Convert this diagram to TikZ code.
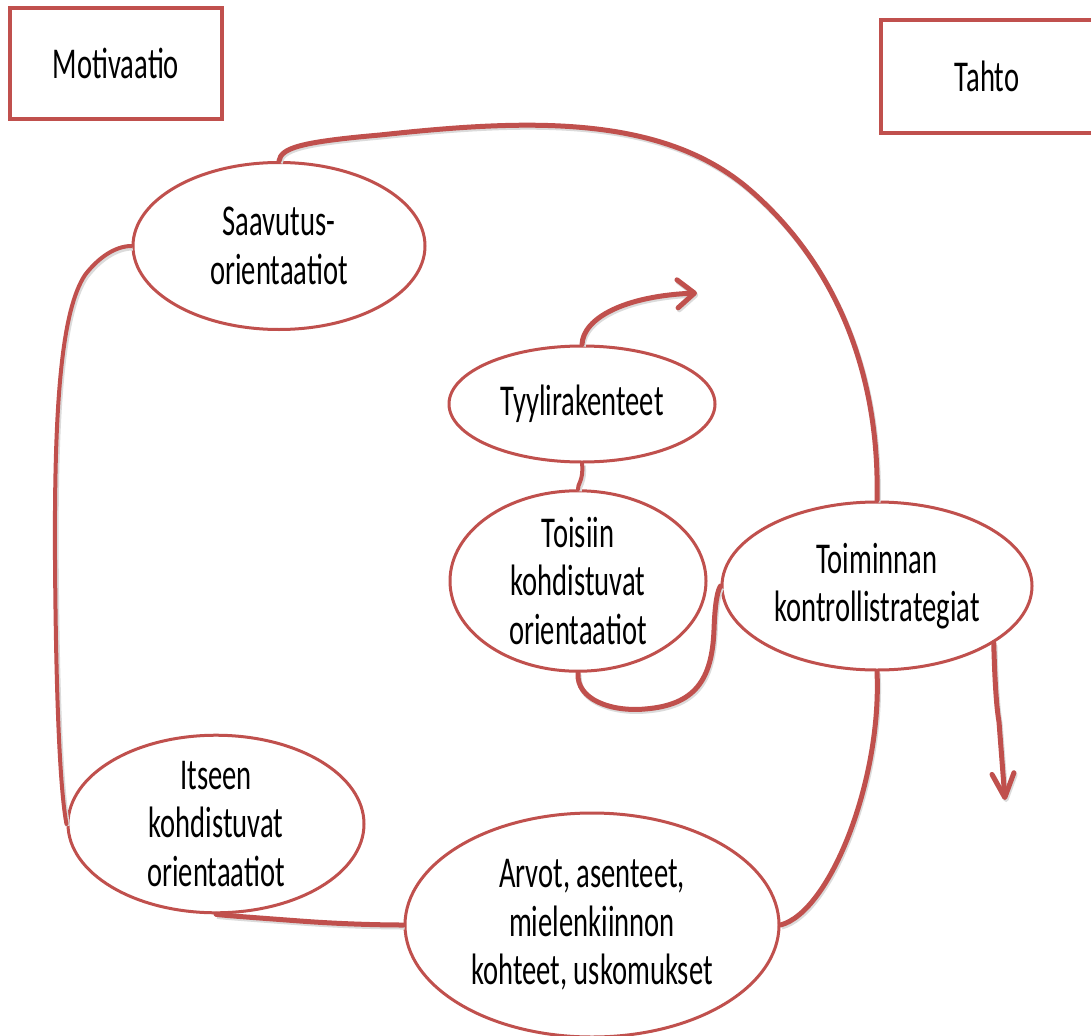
\documentclass[tikz,border=0pt]{standalone}
\usepackage{fontspec}
\setmainfont[FakeStretch=0.65]{Carlito}
\usetikzlibrary{shapes.geometric,arrows.meta}
\definecolor{accentred}{RGB}{192,80,77}
\begin{document}
\begin{tikzpicture}[x=1pt,y=-1pt,
  labelfont/.style={font=\fontsize{44}{48.5}\selectfont},
  oval/.style={ellipse, draw=accentred, line width=3pt, fill=white,
    inner sep=0pt, align=center, labelfont},
  frame/.style={rectangle, draw=accentred, line width=3.5pt, fill=white,
    inner sep=0pt, labelfont},
  link/.style={draw=accentred, line width=5pt, line cap=round, line join=round,
    preaction={draw=black!14, line width=5pt,
      transform canvas={xshift=1.2pt, yshift=-2pt}}},
]
\useasboundingbox (0,0) rectangle (1091,1035);
\fill[white] (0,0) rectangle (1091,1035);

% headings
\node[frame, minimum width=212, minimum height=111] (motiv) at (116,63.5) {Motivaatio};
\node[frame, minimum width=212, minimum height=113] (tahto) at (987,76.5) {Tahto};

% free ends of the two arrows
\coordinate (tipA) at (697,293);
\coordinate (tipB) at (1005,800);

% concept ellipses
\node[oval, minimum width=292, minimum height=167] (saav)    at (279,246) {Saavutus-\\orientaatiot};
\node[oval, minimum width=266, minimum height=116] (tyyli)   at (582,404) {Tyylirakenteet};
\node[oval, minimum width=256, minimum height=156] (toisiin) at (578,581) {Toisiin\\kohdistuvat\\orientaatiot};
\node[oval, minimum width=310, minimum height=168] (toim)    at (877,586) {Toiminnan\\kontrollistrategiat};
\node[oval, minimum width=296, minimum height=146] (itseen)  at (216,824) {Itseen\\kohdistuvat\\orientaatiot};
\node[oval, minimum width=374, minimum height=224] (arvot)   at (592,925) {Arvot, asenteet,\\mielenkiinnon\\kohteet, uskomukset};

% connectors
\draw[link] (saav.north) .. controls (281,148) and (300,142) .. (380,135)
  .. controls (520,120) and (660,112) .. (750,190)
  .. controls (840,268) and (880,380) .. (toim.north);
\draw[link, line width=4pt] (saav.west) .. controls (115,246) and (98,258) .. (85,275)
  .. controls (62,310) and (54,400) .. (55,560)
  .. controls (56,700) and (60,790) .. (itseen.west);
\draw[link] (itseen.south) .. controls (218,915) and (260,918) .. (300,921)
  .. controls (340,924) and (380,925) .. (arvot.west);
\draw[link] (arvot.east) .. controls (830,912) and (882,780) .. (toim.south);
\draw[link] (toisiin.south) .. controls (576,700) and (612,712) .. (645,709)
  .. controls (695,705) and (712,680) .. (714,630)
  .. controls (715,600) and (718,590) .. (toim.west);
\draw[link, line width=4pt] (tyyli.south) .. controls (584,480) and (577,485) .. (toisiin.north);

% arrows
\draw[link, -{Straight Barb[round,length=17pt,width=28pt]}]
  (tyyli.north) .. controls (583,318) and (625,296) .. (tipA);
\draw[link, -{Straight Barb[round,length=24pt,width=22pt]}]
  (toim.-26) .. controls (995,690) and (997,710) .. (999,722) -- (tipB);
\end{tikzpicture}
\end{document}
